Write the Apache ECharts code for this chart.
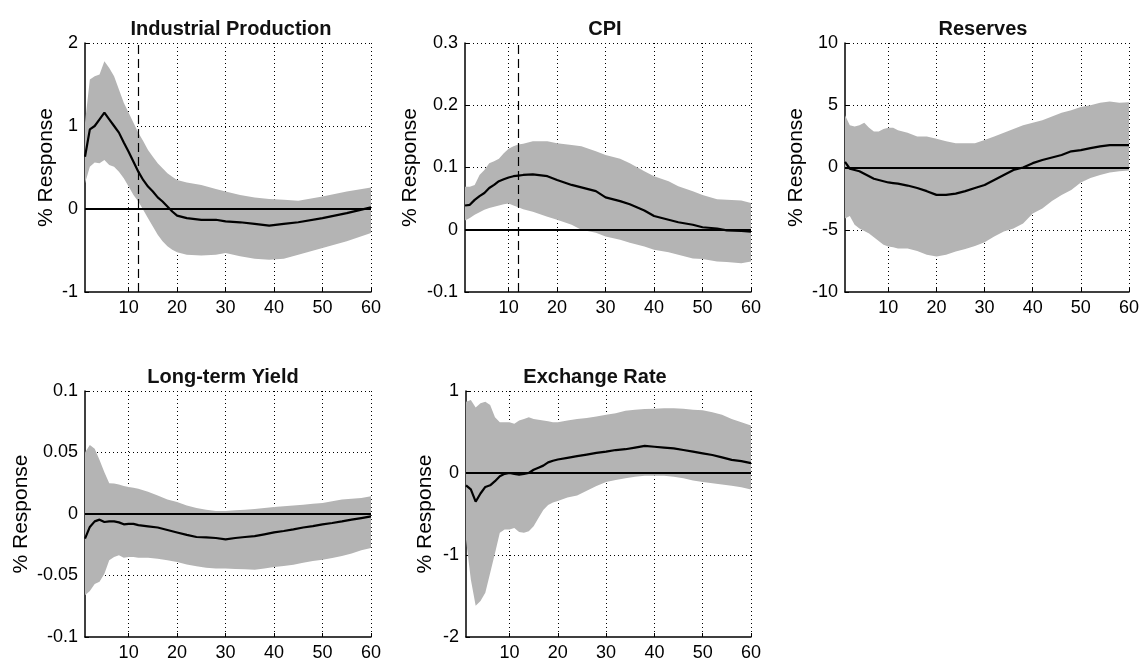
<!DOCTYPE html>
<html><head><meta charset="utf-8">
<script src="https://cdn.jsdelivr.net/npm/echarts@6/dist/echarts.min.js"></script>
<style>html,body{margin:0;padding:0;background:#fff}#c{width:1142px;height:666px}</style>
</head><body><div id="c"></div>
<script>
// ---- data ----
const titles = ['Industrial Production', 'CPI', 'Reserves', 'Long-term Yield', 'Exchange Rate'];
const xTickValues = [10, 20, 30, 40, 50, 60];
const shockMonth = 12;

const ipX = [1,2,3,4,5,6,7,8,9,10,11,12,13,14,15,16,17,18,19,20,22,25,28,30,33,36,39,42,45,50,55,60];
const ipMean = [0.63,0.96,1.0,1.08,1.16,1.08,1.0,0.92,0.8,0.69,0.57,0.45,0.35,0.27,0.21,0.14,0.09,0.03,-0.03,-0.08,-0.11,-0.13,-0.13,-0.15,-0.16,-0.18,-0.2,-0.18,-0.16,-0.11,-0.05,0.02];
const ipUpper = [1.04,1.56,1.6,1.62,1.78,1.7,1.6,1.44,1.28,1.16,1.04,0.92,0.82,0.71,0.63,0.55,0.49,0.43,0.39,0.35,0.32,0.29,0.24,0.21,0.17,0.14,0.12,0.11,0.1,0.15,0.21,0.26];
const ipLower = [0.31,0.51,0.56,0.55,0.59,0.53,0.51,0.45,0.37,0.27,0.17,0.09,-0.01,-0.11,-0.21,-0.31,-0.39,-0.45,-0.49,-0.52,-0.55,-0.56,-0.55,-0.53,-0.57,-0.6,-0.61,-0.6,-0.55,-0.47,-0.39,-0.29];

const cpiX = [1,2,3,4,5,6,7,8,9,10,11,12,13,15,18,20,23,25,28,30,33,35,38,40,43,45,48,50,53,55,58,60];
const cpiMean = [0.039,0.04,0.048,0.054,0.059,0.067,0.072,0.078,0.081,0.084,0.086,0.087,0.088,0.089,0.086,0.08,0.072,0.068,0.062,0.052,0.046,0.041,0.031,0.022,0.016,0.012,0.008,0.004,0.002,-0.001,-0.002,-0.003];
const cpiUpper = [0.069,0.069,0.072,0.088,0.096,0.107,0.11,0.114,0.123,0.13,0.134,0.137,0.138,0.142,0.142,0.139,0.136,0.134,0.126,0.12,0.114,0.107,0.094,0.086,0.078,0.07,0.062,0.056,0.049,0.048,0.047,0.043];
const cpiLower = [0.015,0.019,0.024,0.028,0.032,0.035,0.037,0.039,0.041,0.042,0.039,0.036,0.033,0.029,0.021,0.016,0.008,0.0,-0.005,-0.011,-0.016,-0.021,-0.027,-0.032,-0.036,-0.04,-0.046,-0.047,-0.051,-0.052,-0.054,-0.051];

const resX = [1,2,3,4,5,6,7,8,9,10,11,12,14,16,18,20,22,24,26,28,30,32,34,36,38,40,42,44,46,48,50,52,54,56,58,60];
const resMean = [0.45,-0.1,-0.2,-0.3,-0.5,-0.7,-0.9,-1.0,-1.1,-1.2,-1.25,-1.3,-1.45,-1.65,-1.9,-2.2,-2.2,-2.1,-1.9,-1.65,-1.4,-1.0,-0.6,-0.2,0.0,0.35,0.6,0.8,1.0,1.3,1.4,1.55,1.7,1.8,1.8,1.8];
const resUpper = [4.2,3.4,3.3,3.4,3.6,3.2,2.9,2.9,3.1,3.2,3.2,3.0,2.8,2.5,2.5,2.3,2.1,1.95,1.95,1.95,2.2,2.5,2.8,3.1,3.4,3.6,3.8,4.1,4.4,4.6,4.85,5.0,5.2,5.3,5.2,5.25];
const resLower = [-4.1,-3.9,-4.6,-4.9,-5.1,-5.3,-5.6,-5.9,-6.2,-6.35,-6.4,-6.5,-6.5,-6.7,-7.0,-7.15,-7.0,-6.75,-6.55,-6.3,-6.0,-5.55,-5.15,-4.9,-4.5,-3.7,-3.3,-2.7,-2.2,-1.8,-1.2,-0.85,-0.6,-0.4,-0.3,-0.25];

const ltyX = [1,2,3,4,5,6,7,8,9,10,11,12,14,16,18,20,22,24,26,28,30,32,34,36,38,40,42,44,46,48,50,52,54,56,58,60];
const ltyMean = [-0.02,-0.0105,-0.006,-0.0046,-0.0065,-0.006,-0.006,-0.0068,-0.0084,-0.008,-0.008,-0.009,-0.01,-0.011,-0.013,-0.015,-0.017,-0.0187,-0.019,-0.0195,-0.0206,-0.0195,-0.0187,-0.018,-0.0165,-0.015,-0.0138,-0.0125,-0.011,-0.0098,-0.0084,-0.0073,-0.006,-0.0046,-0.0033,-0.002];
const ltyUpper = [0.05,0.056,0.053,0.044,0.034,0.025,0.0247,0.024,0.0228,0.022,0.0214,0.0206,0.018,0.015,0.0117,0.0098,0.007,0.0049,0.0035,0.0024,0.0024,0.003,0.0035,0.004,0.0049,0.0057,0.0062,0.007,0.0076,0.0084,0.009,0.0103,0.0117,0.0125,0.013,0.0144];
const ltyLower = [-0.066,-0.0626,-0.057,-0.055,-0.0485,-0.0377,-0.035,-0.0336,-0.0355,-0.035,-0.035,-0.0355,-0.0355,-0.0363,-0.0377,-0.039,-0.041,-0.0425,-0.0436,-0.0444,-0.0444,-0.0447,-0.045,-0.0453,-0.0444,-0.043,-0.0423,-0.0412,-0.0396,-0.0382,-0.0371,-0.0358,-0.0341,-0.0322,-0.0295,-0.0276];

const erX = [1,2,3,4,5,6,7,8,9,10,11,12,13,14,15,16,17,18,19,20,22,24,26,28,30,32,34,36,38,40,42,44,46,48,50,52,54,56,58,60];
const erMean = [-0.15,-0.2,-0.35,-0.25,-0.17,-0.15,-0.1,-0.04,-0.01,0,-0.01,-0.02,-0.01,0,0.04,0.065,0.09,0.13,0.15,0.165,0.185,0.205,0.225,0.245,0.26,0.28,0.29,0.31,0.33,0.32,0.31,0.3,0.28,0.26,0.24,0.22,0.19,0.16,0.145,0.12];
const erUpper = [0.87,0.89,0.8,0.85,0.87,0.83,0.68,0.62,0.62,0.62,0.6,0.64,0.66,0.68,0.66,0.65,0.64,0.63,0.62,0.62,0.64,0.66,0.67,0.69,0.71,0.73,0.76,0.77,0.78,0.785,0.79,0.79,0.785,0.77,0.765,0.74,0.71,0.66,0.62,0.58];
const erLower = [-0.81,-1.3,-1.62,-1.56,-1.46,-1.22,-0.98,-0.73,-0.69,-0.69,-0.67,-0.72,-0.73,-0.71,-0.65,-0.55,-0.45,-0.39,-0.36,-0.34,-0.3,-0.275,-0.215,-0.16,-0.11,-0.085,-0.065,-0.045,-0.035,-0.035,-0.035,-0.045,-0.065,-0.09,-0.11,-0.125,-0.14,-0.155,-0.175,-0.2];

const yMins = [-1, -0.1, -10, -0.1, -2];
const yMaxs = [2, 0.3, 10, 0.1, 1];
const yIntervals = [1, 0.1, 5, 0.05, 1];

// ---- layout / style ----
const panels = [
  {x: ipX, m: ipMean, u: ipUpper, l: ipLower, shock: true},
  {x: cpiX, m: cpiMean, u: cpiUpper, l: cpiLower, shock: true},
  {x: resX, m: resMean, u: resUpper, l: resLower, shock: false},
  {x: ltyX, m: ltyMean, u: ltyUpper, l: ltyLower, shock: false},
  {x: erX, m: erMean, u: erUpper, l: erLower, shock: false}
];
const grids = [
  {left: 85, top: 43, width: 286, height: 249},
  {left: 465, top: 43, width: 286, height: 249},
  {left: 845, top: 43, width: 285, height: 249},
  {left: 85, top: 391, width: 286, height: 246},
  {left: 466, top: 391, width: 285, height: 246}
];
const titleCenters = [[226, 14], [600, 14], [978, 14], [218, 362], [590, 362]];
const nameGaps = [28, 44, 38, 53, 30];
const FONT = '"Liberation Sans", Arial, Helvetica, sans-serif';
const BAND = '#b4b4b4';
const dotted = {color: '#000', width: 1, type: [1, 3]};

const chart = echarts.init(document.getElementById('c'), null, {renderer: 'canvas'});
const option = {
  animation: false,
  backgroundColor: '#fff',
  title: titles.map((t, i) => ({
    text: t, left: titleCenters[i][0], top: titleCenters[i][1], textAlign: 'center',
    textStyle: {fontFamily: FONT, fontSize: 20, fontWeight: 'bold', color: '#111'}
  })),
  grid: grids.map(g => Object.assign({containLabel: false}, g)),
  xAxis: grids.map((g, i) => ({
    type: 'value', gridIndex: i, min: 1, max: 60,
    axisLine: {show: true, onZero: false, lineStyle: {color: '#000', width: 1.5}},
    axisTick: {show: true, inside: true, length: 4, customValues: xTickValues, lineStyle: {color: '#000'}},
    axisLabel: {customValues: xTickValues, fontFamily: FONT, fontSize: 18, color: '#000', margin: 7},
    splitLine: {show: true, lineStyle: dotted}
  })),
  yAxis: grids.map((g, i) => ({
    type: 'value', gridIndex: i, min: yMins[i], max: yMaxs[i], interval: yIntervals[i],
    name: '% Response', nameLocation: 'middle', nameGap: nameGaps[i],
    nameTextStyle: {fontFamily: FONT, fontSize: 21, color: '#000'},
    axisLine: {show: true, onZero: false, lineStyle: {color: '#000', width: 1.5}},
    axisTick: {show: true, inside: true, length: 4, lineStyle: {color: '#000'}},
    axisLabel: {fontFamily: FONT, fontSize: 18, color: '#000', margin: 7},
    splitLine: {show: true, showMinLine: false, showMaxLine: true, lineStyle: dotted}
  })),
  series: []
};

panels.forEach((p, i) => {
  option.series.push({
    type: 'custom', xAxisIndex: i, yAxisIndex: i, silent: true, clip: true, z: 1,
    data: p.x.map((x, k) => [x, p.l[k], p.u[k]]),
    renderItem: function (params, api) {
      if (params.dataIndex !== 0) return null;
      const pts = [];
      for (let k = 0; k < p.x.length; k++) pts.push(api.coord([p.x[k], p.u[k]]));
      for (let k = p.x.length - 1; k >= 0; k--) pts.push(api.coord([p.x[k], p.l[k]]));
      return {type: 'polygon', shape: {points: pts}, style: {fill: BAND, stroke: null}};
    }
  });
  const ml = [{yAxis: 0, lineStyle: {color: '#000', width: 2, type: 'solid'}}];
  if (p.shock) ml.push({xAxis: shockMonth, lineStyle: {color: '#000', width: 1.2, type: [9, 5]}});
  option.series.push({
    type: 'line', xAxisIndex: i, yAxisIndex: i, silent: true, z: 3,
    data: p.x.map((x, k) => [x, p.m[k]]),
    showSymbol: false, symbol: 'none',
    lineStyle: {color: '#000', width: 2.2},
    markLine: {silent: true, symbol: 'none', label: {show: false}, animation: false, data: ml}
  });
});

chart.setOption(option);
</script>
</body></html>
